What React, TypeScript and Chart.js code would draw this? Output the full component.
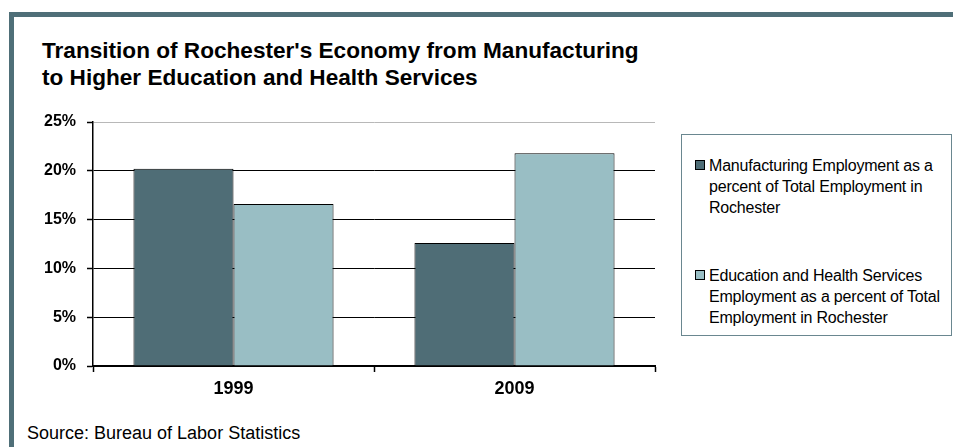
import React, { useEffect, useRef } from 'react';
import { Chart, registerables } from 'chart.js';

Chart.register(...registerables);

const categories = ['1999', '2009'];
const manufacturingPct = [20.2, 12.6];
const eduHealthPct = [16.6, 21.8];
const yTickValues = [0, 5, 10, 15, 20, 25];

const titleLines = [
  "Transition of Rochester's Economy from Manufacturing",
  'to Higher Education and Health Services',
];
const manufacturingLabel = [
  'Manufacturing Employment as a',
  'percent of Total Employment in',
  'Rochester',
];
const eduHealthLabel = [
  'Education and Health Services',
  'Employment as a percent of Total',
  'Employment in Rochester',
];
const sourceText = 'Source: Bureau of Labor Statistics';

const DARK = '#4f6d76';
const LIGHT = '#99bec4';
const FRAME = '#4f6f78';
const FONT = '"Liberation Sans", Arial, sans-serif';

export default function App() {
  const canvasRef = useRef<HTMLCanvasElement | null>(null);

  useEffect(() => {
    if (!canvasRef.current) return;
    const chart = new Chart(canvasRef.current, {
      type: 'bar',
      data: {
        labels: categories,
        datasets: [
          {
            label: manufacturingLabel.join(' '),
            data: manufacturingPct,
            backgroundColor: DARK,
            borderColor: '#000',
            borderWidth: 1,
            categoryPercentage: 0.712,
            barPercentage: 1.0,
          },
          {
            label: eduHealthLabel.join(' '),
            data: eduHealthPct,
            backgroundColor: LIGHT,
            borderColor: '#000',
            borderWidth: 1,
            categoryPercentage: 0.712,
            barPercentage: 1.0,
          },
        ],
      },
      options: {
        animation: false,
        responsive: false,
        maintainAspectRatio: false,
        devicePixelRatio: 1,
        layout: { padding: { left: 0, top: 22, right: 25, bottom: 14 } },
        plugins: {
          legend: { display: false },
          title: { display: false },
          tooltip: { enabled: false },
        },
        scales: {
          x: {
            offset: true,
            grid: {
              offset: true,
              drawOnChartArea: false,
              drawTicks: true,
              tickLength: 6,
              tickColor: '#000',
              tickWidth: 1.5,
            },
            border: { display: true, color: '#000', width: 2 },
            ticks: {
              color: '#000',
              font: { family: FONT, size: 18, weight: 'bold' },
              padding: 6,
            },
            afterFit: (scale: any) => {
              scale.height = 30;
            },
          },
          y: {
            min: 0,
            max: 25,
            afterBuildTicks: (scale: any) => {
              scale.ticks = yTickValues.map((v) => ({ value: v }));
            },
            grid: {
              color: (ctx: any) => (ctx.tick && ctx.tick.value === 25 ? '#b8b8b8' : '#000'),
              lineWidth: 1,
              tickColor: '#000',
              tickLength: 6,
              tickWidth: 1.5,
            },
            border: { display: true, color: '#000', width: 1.5 },
            ticks: {
              color: '#000',
              font: { family: FONT, size: 16, weight: 'bold' },
              padding: 11,
              callback: (v: any) => `${v}%`,
            },
            afterFit: (scale: any) => {
              scale.width = 93;
            },
          },
        },
      },
    });
    return () => chart.destroy();
  }, []);

  const legendItems = [
    { lines: manufacturingLabel, color: DARK, top: 154.7 - 134 - 1 },
    { lines: eduHealthLabel, color: LIGHT, top: 265.4 - 134 - 1 },
  ];

  return (
    <div
      style={{
        position: 'absolute',
        left: 0,
        top: 0,
        width: 953,
        height: 447,
        background: '#fff',
        overflow: 'hidden',
        fontFamily: FONT,
        color: '#000',
      }}
    >
      <div style={{ position: 'absolute', left: 9, top: 12, width: 944, height: 5, background: FRAME }} />
      <div style={{ position: 'absolute', left: 9, top: 12, width: 5, height: 435, background: FRAME }} />

      <div
        style={{
          position: 'absolute',
          left: 42,
          top: 37,
          fontSize: 22.6,
          fontWeight: 'bold',
          lineHeight: '27px',
          whiteSpace: 'nowrap',
        }}
      >
        {titleLines.map((l, i) => (
          <div key={i}>{l}</div>
        ))}
      </div>

      <canvas
        ref={canvasRef}
        width={680}
        height={310}
        style={{ position: 'absolute', left: 0, top: 100, width: 680, height: 310 }}
      />

      <div
        style={{
          position: 'absolute',
          left: 681,
          top: 134,
          width: 269,
          height: 200,
          border: '1px solid #6a8790',
        }}
      >
        {legendItems.map((it, i) => (
          <div key={i} style={{ position: 'absolute', left: 0, top: it.top, width: 269 }}>
            <div
              style={{
                position: 'absolute',
                left: 695 - 682,
                top: 5,
                width: 8,
                height: 8,
                background: it.color,
                border: '1px solid #000',
              }}
            />
            <div
              style={{
                position: 'absolute',
                left: 709 - 682,
                top: 0,
                fontSize: 16,
                lineHeight: '21px',
                letterSpacing: '-0.2px',
                whiteSpace: 'nowrap',
              }}
            >
              {it.lines.map((l, j) => (
                <div key={j}>{l}</div>
              ))}
            </div>
          </div>
        ))}
      </div>

      <div
        style={{
          position: 'absolute',
          left: 27,
          top: 422.6,
          fontSize: 18,
          lineHeight: '20px',
          whiteSpace: 'nowrap',
        }}
      >
        {sourceText}
      </div>
    </div>
  );
}
